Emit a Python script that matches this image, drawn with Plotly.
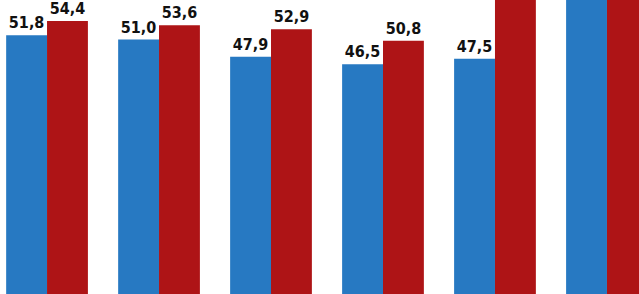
import plotly.graph_objects as go

categories = ["2014", "2015", "2016", "2017", "2018", "2019"]
series_blue = [51.8, 51.0, 47.9, 46.5, 47.5, 59.5]
series_red = [54.4, 53.6, 52.9, 50.8, 59.0, 62.0]

Y_TOP = 58.2
x_idx = list(range(len(categories)))

def positions(vals):
    return ["outside" if v < Y_TOP - 2.5 else "none" for v in vals]

font = dict(family="DejaVu Sans Condensed, Roboto, Arial Narrow, sans-serif",
            size=16, color="#111111", weight="bold")

fig = go.Figure()
fig.add_trace(go.Bar(
    x=x_idx, y=series_blue, name="A",
    marker=dict(color="#2779C2", line=dict(width=0)),
    texttemplate="%{y:.1f}", textposition=positions(series_blue),
    textfont=font,
))
fig.add_trace(go.Bar(
    x=x_idx, y=series_red, name="B",
    marker=dict(color="#AE1416", line=dict(width=0)),
    texttemplate="%{y:.1f}", textposition=positions(series_red),
    textfont=font,
))

fig.update_layout(
    width=639, height=294,
    margin=dict(l=0, r=0, t=0, b=0),
    paper_bgcolor="white", plot_bgcolor="white",
    barmode="group", bargap=0.27, bargroupgap=0,
    showlegend=False,
    separators=", ",
    xaxis=dict(range=[-0.42, 5.286], showticklabels=False, showgrid=False,
               zeroline=False, showline=False, ticks=""),
    yaxis=dict(range=[Y_TOP - 294 / 5.5, Y_TOP], showticklabels=False, showgrid=False,
               zeroline=False, showline=False, ticks=""),
)
fig.update_traces(constraintext="none")

fig.write_html("out.html")
